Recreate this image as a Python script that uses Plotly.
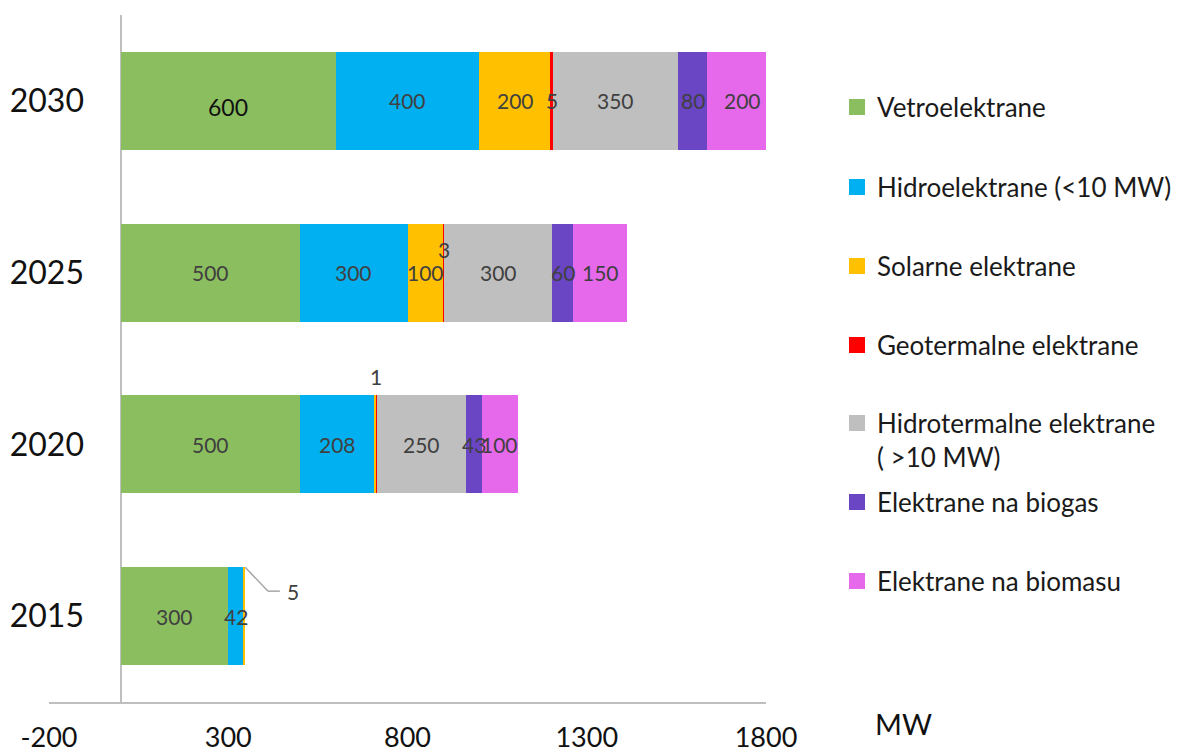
import plotly.graph_objects as go

# Installed renewable capacity (MW) per year and plant type
years = ["2015", "2020", "2025", "2030"]
vetroelektrane = [300, 500, 500, 600]
hidroelektrane_male = [42, 208, 300, 400]
solarne = [5, 5, 100, 200]
geotermalne = [0, 1, 3, 5]
hidrotermalne = [0, 250, 300, 350]
biogas = [0, 43, 60, 80]
biomasa = [0, 100, 150, 200]

series_names = [
    "Vetroelektrane",
    "Hidroelektrane (<10 MW)",
    "Solarne elektrane",
    "Geotermalne elektrane",
    "Hidrotermalne elektrane<br>( >10 MW)",
    "Elektrane na biogas",
    "Elektrane na biomasu",
]
series_values = [vetroelektrane, hidroelektrane_male, solarne, geotermalne,
                 hidrotermalne, biogas, biomasa]
series_colors = ["#8BBE5F", "#00B0F0", "#FFC000", "#FF0000",
                 "#BFBFBF", "#6A45C4", "#E669EC"]

x_ticks = [-200, 300, 800, 1300, 1800]
x_range = [-200, 1800]
BARGAP = 0.43
FONT = "Lato"

fig = go.Figure()

for name, vals, col in zip(series_names, series_values, series_colors):
    fig.add_trace(go.Bar(
        y=years, x=vals, orientation="h", name=name,
        marker=dict(color=col, line=dict(width=0)),
        showlegend=False, hoverinfo="x+name",
    ))

# Legend entries with large square swatches, one legend box per series
legend_centers_px = [107, 187, 266, 345, 440, 502, 581]
plot_top, plot_bottom, plot_left, plot_right = 15, 702, 49, 766
legend_layouts = {}
for i, (name, col) in enumerate(zip(series_names, series_colors)):
    key = "legend" if i == 0 else f"legend{i + 1}"
    fig.add_trace(go.Scatter(
        x=[None], y=[None], mode="markers", name=name,
        marker=dict(symbol="square", size=16, color=col),
        legend=key, showlegend=True,
    ))
    legend_layouts[key] = dict(
        x=(837 - plot_left) / (plot_right - plot_left),
        y=(plot_bottom - legend_centers_px[i]) / (plot_bottom - plot_top),
        xanchor="left", yanchor="middle",
        bgcolor="rgba(0,0,0,0)",
        font=dict(family=FONT, size=26, color="#1A1A1A"),
        valign="top", itemsizing="trace",
    )

# Segment value labels, centred on each stacked segment.
# Category positions are given as index numbers on the category axis.
hidden_labels = {(2, "2020")}
annotations = []
shapes = []
for yi, yr in enumerate(years):
    start = 0
    for si, vals in enumerate(series_values):
        v = vals[yi]
        if v == 0:
            continue
        mid = start + v / 2
        start += v
        if (si, yr) in hidden_labels:
            continue
        yshift = 0
        color = "#404040"
        size = 21
        if si == 0 and yr == "2030":
            color, size, yshift = "#111111", 23, -6
        if si == 3 and yr == "2025":
            yshift = 23
        if si == 3 and yr == "2020":
            yshift = 68
        if si == 2 and yr == "2015":
            # label pulled out to the right with an elbow leader line
            y0 = yi + (1 - BARGAP) / 2
            y1 = yi + 25 / 172
            x_end = start
            leader = dict(color="#A6A6A6", width=1.5)
            shapes.append(dict(type="line", xref="x", yref="y",
                               x0=x_end, y0=y0, x1=x_end + 64, y1=y1, line=leader))
            shapes.append(dict(type="line", xref="x", yref="y",
                               x0=x_end + 64, y0=y1, x1=x_end + 97, y1=y1, line=leader))
            annotations.append(dict(
                x=x_end + 134, y=y1, xref="x", yref="y", text=str(v),
                showarrow=False, font=dict(family=FONT, size=size, color=color),
            ))
            continue
        annotations.append(dict(
            x=mid, y=yi, xref="x", yref="y", text=str(v), yshift=yshift,
            showarrow=False, font=dict(family=FONT, size=size, color=color),
        ))

annotations.append(dict(
    x=(903 - plot_left) / (plot_right - plot_left),
    y=(plot_bottom - 723) / (plot_bottom - plot_top),
    xref="paper", yref="paper", xanchor="center", yanchor="middle",
    text="MW", showarrow=False,
    font=dict(family=FONT, size=29, color="#111111"),
))

fig.update_layout(
    barmode="stack",
    bargap=BARGAP,
    width=1181, height=756,
    margin=dict(l=plot_left, r=1181 - plot_right, t=plot_top,
                b=756 - plot_bottom, autoexpand=False),
    paper_bgcolor="white", plot_bgcolor="white",
    font=dict(family=FONT),
    annotations=annotations,
    shapes=shapes,
    **legend_layouts,
    xaxis=dict(
        range=x_range, tickvals=x_ticks, ticktext=[str(t) for t in x_ticks],
        showgrid=False, zeroline=True, zerolinecolor="#BFBFBF", zerolinewidth=2,
        showline=True, linecolor="#BFBFBF", linewidth=2,
        ticks="", ticklabelstandoff=11, automargin=False,
        tickfont=dict(family=FONT, size=27, color="#111111"),
        fixedrange=True,
    ),
    yaxis=dict(
        type="category", categoryorder="array", categoryarray=years,
        range=[-0.5, 3.5], automargin=False,
        anchor="free", position=(84 - plot_left) / (plot_right - plot_left),
        showgrid=False, zeroline=False, showline=False, ticks="", ticklen=0,
        tickfont=dict(family=FONT, size=32, color="#111111"),
        fixedrange=True,
    ),
)

fig.write_html("out.html")
